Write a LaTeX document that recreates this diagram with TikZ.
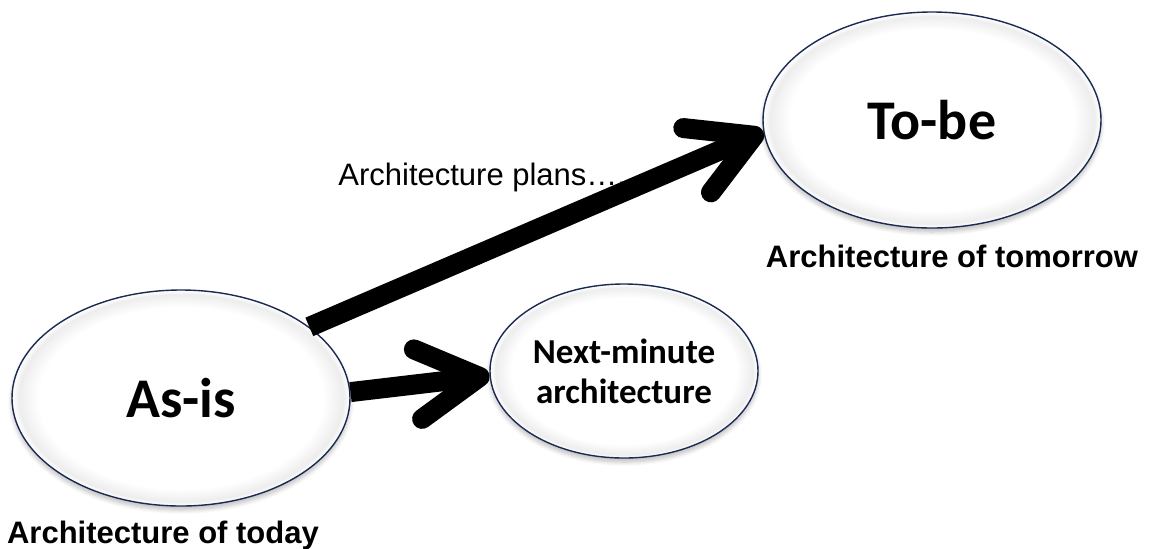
\documentclass[tikz,border=0pt]{standalone}
\usepackage{fontspec}
\setmainfont{Liberation Sans}
\newfontfamily\calib{Carlito}
\usetikzlibrary{shapes.geometric,positioning,arrows.meta,shadows.blur}
\definecolor{rimblue}{HTML}{1B2A52}
\pgfdeclareradialshading{bevel}{\pgfpoint{0bp}{0bp}}{%
    color(0bp)=(white); color(21bp)=(white); color(24bp)=(black!7);
    color(24.5bp)=(black!3); color(25bp)=(white); color(50bp)=(white)}
\tikzset{
phase/.style={
    ellipse, draw=rimblue, line width=0.7pt,
    shading=bevel,
    blur shadow={shadow xshift=0pt, shadow yshift=-2pt,
                 shadow blur steps=6, shadow opacity=25},
    align=center, inner sep=0pt
},
bigphase/.style={
    phase,
    minimum width=169pt, minimum height=108pt,
    font=\calib\bfseries\fontsize{28}{32}\selectfont
},
smallphase/.style={
    phase,
    minimum width=134pt, minimum height=87pt,
    font=\calib\bfseries\fontsize{17.5}{20}\selectfont
},
caption/.style={font=\bfseries\fontsize{15.5}{18}\selectfont, inner sep=0pt},
plans/.style={font=\fontsize{15.5}{18}\selectfont, inner sep=0pt},
bigarrow/.style={line width=10pt, -{Straight Barb[length=31pt, width=35pt, round]}}
}

\begin{document}
\begin{tikzpicture}[x=0.5pt, y=-0.5pt]
\useasboundingbox (0,0) rectangle (1149,548);
% the three architectures
\node[bigphase] (asis) at (181,398) {As-is};
\node[smallphase] (nextmin) at (624,371) {Next-minute\\architecture};
\node[bigphase] (tobe) at (932,120) {To-be};
% captions
\node[caption, below=7pt of asis.south, xshift=-9pt] (today) {Architecture of today};
\node[caption, below=8pt of tobe.south, xshift=10pt] (tomorrow) {Architecture of tomorrow};
\node[plans, anchor=base west] (plansnote) at (338,185) {Architecture plans….};
% arrows
\draw[bigarrow] (asis.29) -- (tobe.184);
\draw[bigarrow] (asis.2) -- (nextmin.182);
\end{tikzpicture}
\end{document}
